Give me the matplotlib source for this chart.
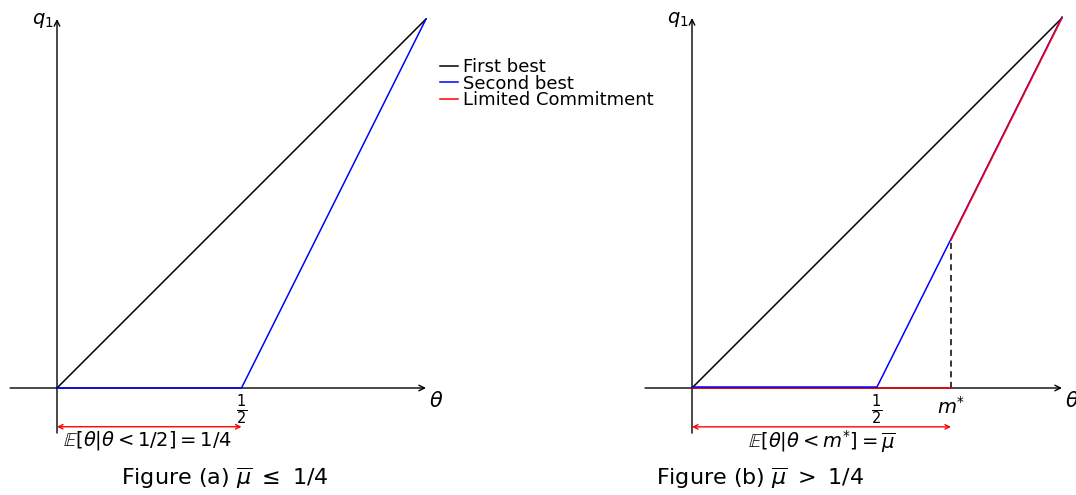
import matplotlib
matplotlib.use("Agg")
import matplotlib.pyplot as plt
from matplotlib.lines import Line2D
import matplotlib.transforms as mtransforms

plt.rcParams['font.family'] = ['DejaVu Sans']
plt.rcParams['mathtext.fontset'] = 'dejavusans'

# ---- data ----
theta_fb = [0, 1]
q_fb = [0, 1]
theta_sb = [0, 0.5, 1]
q_sb = [0, 0, 1]
half = 0.5
m_star = 0.7
q_at_m = 0.4
theta_lc_low = [0, m_star]
q_lc_low = [0, 0]
theta_lc_high = [m_star, 1]
q_lc_high = [q_at_m, 1]
legend_labels = ["First best", "Second best", "Limited Commitment"]
captions = [r"Figure (a) $\overline{\mu}\ \leq\ 1/4$", r"Figure (b) $\overline{\mu}\ >\ 1/4$"]
brace_labels = [r"$\mathbb{E}[\theta|\theta < 1/2] = 1/4$",
                r"$\mathbb{E}[\theta|\theta < m^{*}] = \overline{\mu}$"]

W, H = 1076, 495
fig = plt.figure(figsize=(W / 100, H / 100), dpi=100)

def make_axes(x0px, x1px, ox, oy, scale):
    ax = fig.add_axes([x0px / W, 0, (x1px - x0px) / W, 1])
    ax.set_xlim((x0px - ox) / scale, (x1px - ox) / scale)
    yb = H - oy
    ax.set_ylim(-yb / scale, (H - yb) / scale)
    ax.axis('off')
    return ax

axA = make_axes(0, 538, 57, 388, 369)
axB = make_axes(538, 1076, 692, 388, 370)

lw = 1.1
blue = '#0000ff'
red = '#ff0000'

def draw_axes(ax):
    ax.annotate('', xy=(1.0, 0), xytext=(-0.127, 0),
                arrowprops=dict(arrowstyle='->', lw=1.0, color='black',
                                shrinkA=0, shrinkB=0, mutation_scale=10), zorder=1)
    ax.annotate('', xy=(0, 1.0), xytext=(0, -0.122),
                arrowprops=dict(arrowstyle='->', lw=1.0, color='black',
                                shrinkA=0, shrinkB=0, mutation_scale=10), zorder=1)
    ax.text(-0.008, 0.995, r'$q_1$', ha='right', va='center', fontsize=14)
    ax.text(1.027, -0.036, r'$\theta$', ha='center', va='center', fontsize=15)
    ax.text(half, -0.06, r'$\frac{1}{2}$', ha='center', va='center', fontsize=15)

def red_arrow(ax, x1):
    ax.annotate('', xy=(x1, -0.105), xytext=(0, -0.105),
                arrowprops=dict(arrowstyle='<->', lw=1.0, color=red,
                                shrinkA=0, shrinkB=0, mutation_scale=8))

# Panel (a)
draw_axes(axA)
axA.plot(theta_fb, q_fb, color='black', lw=lw, zorder=2)
axA.plot(theta_sb, q_sb, color=blue, lw=lw, zorder=3)
red_arrow(axA, half)
axA.text(half / 2 - 0.005, -0.143, brace_labels[0], ha='center', va='center', fontsize=14)
axA.text(0.455, -0.245, captions[0], ha='center', va='center', fontsize=16)

# Panel (b)
draw_axes(axB)
axB.plot(theta_fb, q_fb, color='black', lw=lw, zorder=2)
up = mtransforms.offset_copy(axB.transData, fig=fig, x=0, y=1.0, units='dots')
axB.plot(theta_sb, q_sb, color=blue, lw=lw, zorder=3, transform=up)
axB.plot(theta_lc_low, q_lc_low, color=red, lw=lw, zorder=2.5)
axB.plot(theta_lc_high, q_lc_high, color=red, lw=lw, zorder=4)
axB.plot([m_star, m_star], [0, q_at_m], color='black', lw=1.1, ls=(0, (4, 3)), zorder=1)
axB.text(m_star, -0.05, r'$m^{*}$', ha='center', va='center', fontsize=14)
red_arrow(axB, m_star)
axB.text(m_star / 2, -0.143, brace_labels[1], ha='center', va='center', fontsize=14)
axB.text(0.184, -0.245, captions[1], ha='center', va='center', fontsize=16)

handles = [Line2D([], [], color=c, lw=lw) for c in ['black', blue, red]]
fig.legend(handles, legend_labels, loc='upper left',
           bbox_to_anchor=(440 / W, 1 - 58 / H), frameon=False,
           fontsize=13, handlelength=1.0, handletextpad=0.25,
           labelspacing=-0.08, borderpad=0, borderaxespad=0)

fig.savefig('out.png', dpi=100)
